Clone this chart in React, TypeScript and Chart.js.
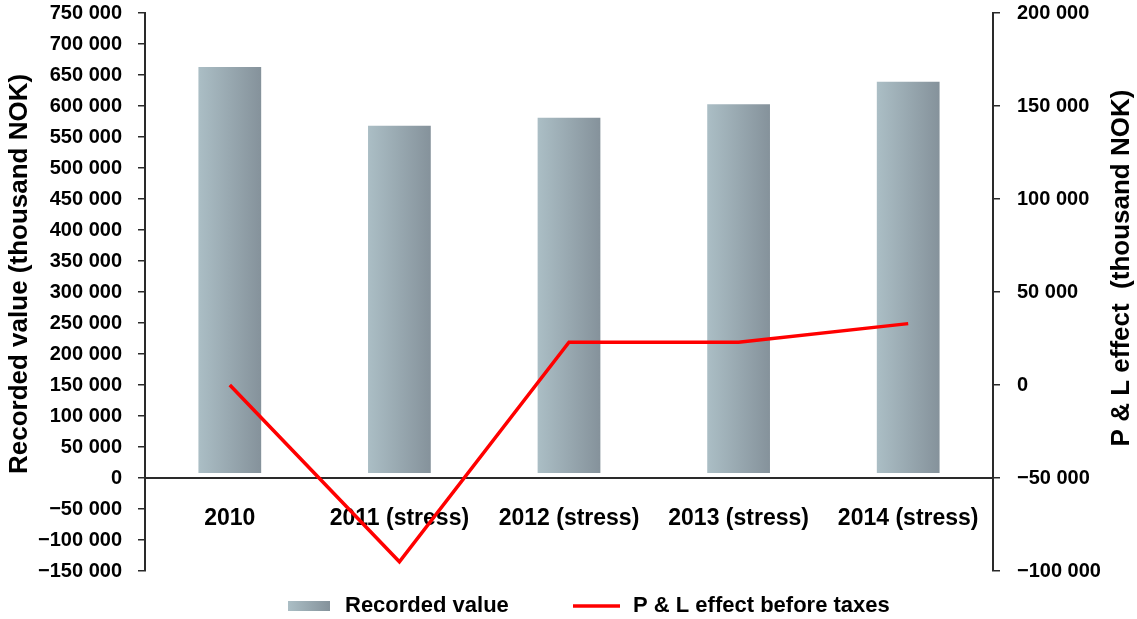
import React, { useEffect, useRef } from "react";
import { Chart, registerables } from "chart.js";

Chart.register(...registerables);

const CATEGORIES = ["2010", "2011 (stress)", "2012 (stress)", "2013 (stress)", "2014 (stress)"];
const RECORDED_VALUE = [663000, 568000, 581000, 603000, 639000];
const PL_EFFECT = [0, -95000, 23000, 23000, 33000];
const BAR_BASE = 8000;
const LEFT_TICKS = [-150000, -100000, -50000, 0, 50000, 100000, 150000, 200000, 250000, 300000, 350000, 400000, 450000, 500000, 550000, 600000, 650000, 700000, 750000];
const RIGHT_TICKS = [-100000, -50000, 0, 50000, 100000, 150000, 200000];
const SERIES_LABELS = ["Recorded value", "P & L effect before taxes"];
const LEFT_TITLE = "Recorded value (thousand NOK)";
const RIGHT_TITLE = "P & L effect  (thousand NOK)";

const FONT = "'Liberation Sans', Arial, sans-serif";
const BAR_LIGHT = "#abbec5";
const BAR_DARK = "#85929b";
const AXIS = "#2a2a2a";

function fmt(v: number): string {
  const s = Math.abs(v).toString().replace(/\B(?=(\d{3})+(?!\d))/g, " ");
  return (v < 0 ? "\u2212" : "") + s;
}

const BAR_PCT = 0.37;

const decorPlugin = {
  id: "decor",
  afterDraw(chart: any) {
    const ctx = chart.ctx;
    ctx.save();
    // legend
    const y = 606;
    ctx.font = `bold 22px ${FONT}`;
    ctx.textBaseline = "middle";
    ctx.textAlign = "left";
    const g = ctx.createLinearGradient(288, 0, 330, 0);
    g.addColorStop(0, BAR_LIGHT);
    g.addColorStop(1, BAR_DARK);
    ctx.fillStyle = g;
    ctx.fillRect(288, y - 5, 42, 10);
    ctx.fillStyle = "#000";
    ctx.fillText(chart.data.datasets[1].label, 345, y);
    ctx.strokeStyle = "#ff0000";
    ctx.lineWidth = 3.5;
    ctx.beginPath();
    ctx.moveTo(573, y);
    ctx.lineTo(620, y);
    ctx.stroke();
    ctx.fillText(chart.data.datasets[0].label, 633, y);
    // right axis title, reading bottom-to-top
    ctx.translate(1122, 268);
    ctx.rotate(-Math.PI / 2);
    ctx.font = `bold 26px ${FONT}`;
    ctx.textAlign = "center";
    ctx.textBaseline = "middle";
    ctx.fillText(RIGHT_TITLE, 0, 0);
    ctx.restore();
  },
};

export default function App() {
  const ref = useRef<HTMLCanvasElement | null>(null);
  useEffect(() => {
    document.body.style.margin = "0";
    const canvas = ref.current;
    if (!canvas) return;
    const chart = new Chart(canvas, {
      type: "bar",
      data: {
        labels: CATEGORIES,
        datasets: [
          {
            type: "line",
            label: SERIES_LABELS[1],
            data: PL_EFFECT,
            yAxisID: "y2",
            borderColor: "#ff0000",
            backgroundColor: "#ff0000",
            borderWidth: 3.5,
            pointRadius: 0,
            tension: 0,
            order: 0,
          } as any,
          {
            type: "bar",
            label: SERIES_LABELS[0],
            data: RECORDED_VALUE,
            yAxisID: "y",
            base: BAR_BASE,
            barPercentage: BAR_PCT,
            categoryPercentage: 1,
            order: 1,
            backgroundColor: (c: any) => {
              const ch = c.chart;
              const xs = ch.scales && ch.scales.x;
              if (!xs || c.type !== "data") return BAR_LIGHT;
              const cx = xs.getPixelForValue(c.dataIndex);
              const w = (xs.width / CATEGORIES.length) * BAR_PCT;
              if (!isFinite(cx) || !isFinite(w) || w <= 0) return BAR_LIGHT;
              const g = ch.ctx.createLinearGradient(cx - w / 2, 0, cx + w / 2, 0);
              g.addColorStop(0, BAR_LIGHT);
              g.addColorStop(1, BAR_DARK);
              return g;
            },
          } as any,
        ],
      },
      options: {
        responsive: false,
        animation: false,
        layout: { padding: { top: 13, bottom: 48, left: 0, right: 0 } },
        plugins: {
          legend: { display: false },
          tooltip: { enabled: false },
        },
        scales: {
          x: {
            position: { y: 0 } as any,
            offset: true,
            afterFit: (s: any) => {
              s.height = 0;
            },
            grid: { display: false, drawTicks: false },
            border: { display: true, color: AXIS, width: 2 },
            ticks: {
              color: "#000",
              padding: 27,
              font: { family: FONT, size: 23, weight: "bold" },
              maxRotation: 0,
              autoSkip: false,
            },
          },
          y: {
            position: "left",
            min: -150000,
            max: 750000,
            afterBuildTicks: (s: any) => {
              s.ticks = LEFT_TICKS.map((v) => ({ value: v }));
            },
            afterFit: (s: any) => {
              s.width = 145;
              s.paddingTop = 0;
              s.paddingBottom = 0;
            },
            grid: { drawOnChartArea: false, tickLength: 7, color: AXIS, lineWidth: 1.5 },
            border: { display: true, color: AXIS, width: 2 },
            ticks: {
              color: "#000",
              padding: 16,
              font: { family: FONT, size: 20, weight: "bold" },
              callback: (v: any) => fmt(Number(v)),
            },
            title: {
              display: true,
              text: "     " + LEFT_TITLE,
              color: "#000",
              font: { family: FONT, size: 26, weight: "bold" },
              padding: { top: 4, bottom: 0 },
            },
          },
          y2: {
            position: "right",
            min: -100000,
            max: 200000,
            afterBuildTicks: (s: any) => {
              s.ticks = RIGHT_TICKS.map((v) => ({ value: v }));
            },
            afterFit: (s: any) => {
              s.width = 144;
              s.paddingTop = 0;
              s.paddingBottom = 0;
            },
            grid: { drawOnChartArea: false, tickLength: 7, color: AXIS, lineWidth: 1.5 },
            border: { display: true, color: AXIS, width: 2 },
            ticks: {
              color: "#000",
              padding: 17,
              font: { family: FONT, size: 20, weight: "bold" },
              callback: (v: any) => fmt(Number(v)),
            },
            title: { display: false },
          },
        },
      },
      plugins: [decorPlugin],
    });
    return () => chart.destroy();
  }, []);
  return (
    <div style={{ width: 1137, height: 619 }}>
      <canvas ref={ref} width={1137} height={619} style={{ display: "block" }} />
    </div>
  );
}
